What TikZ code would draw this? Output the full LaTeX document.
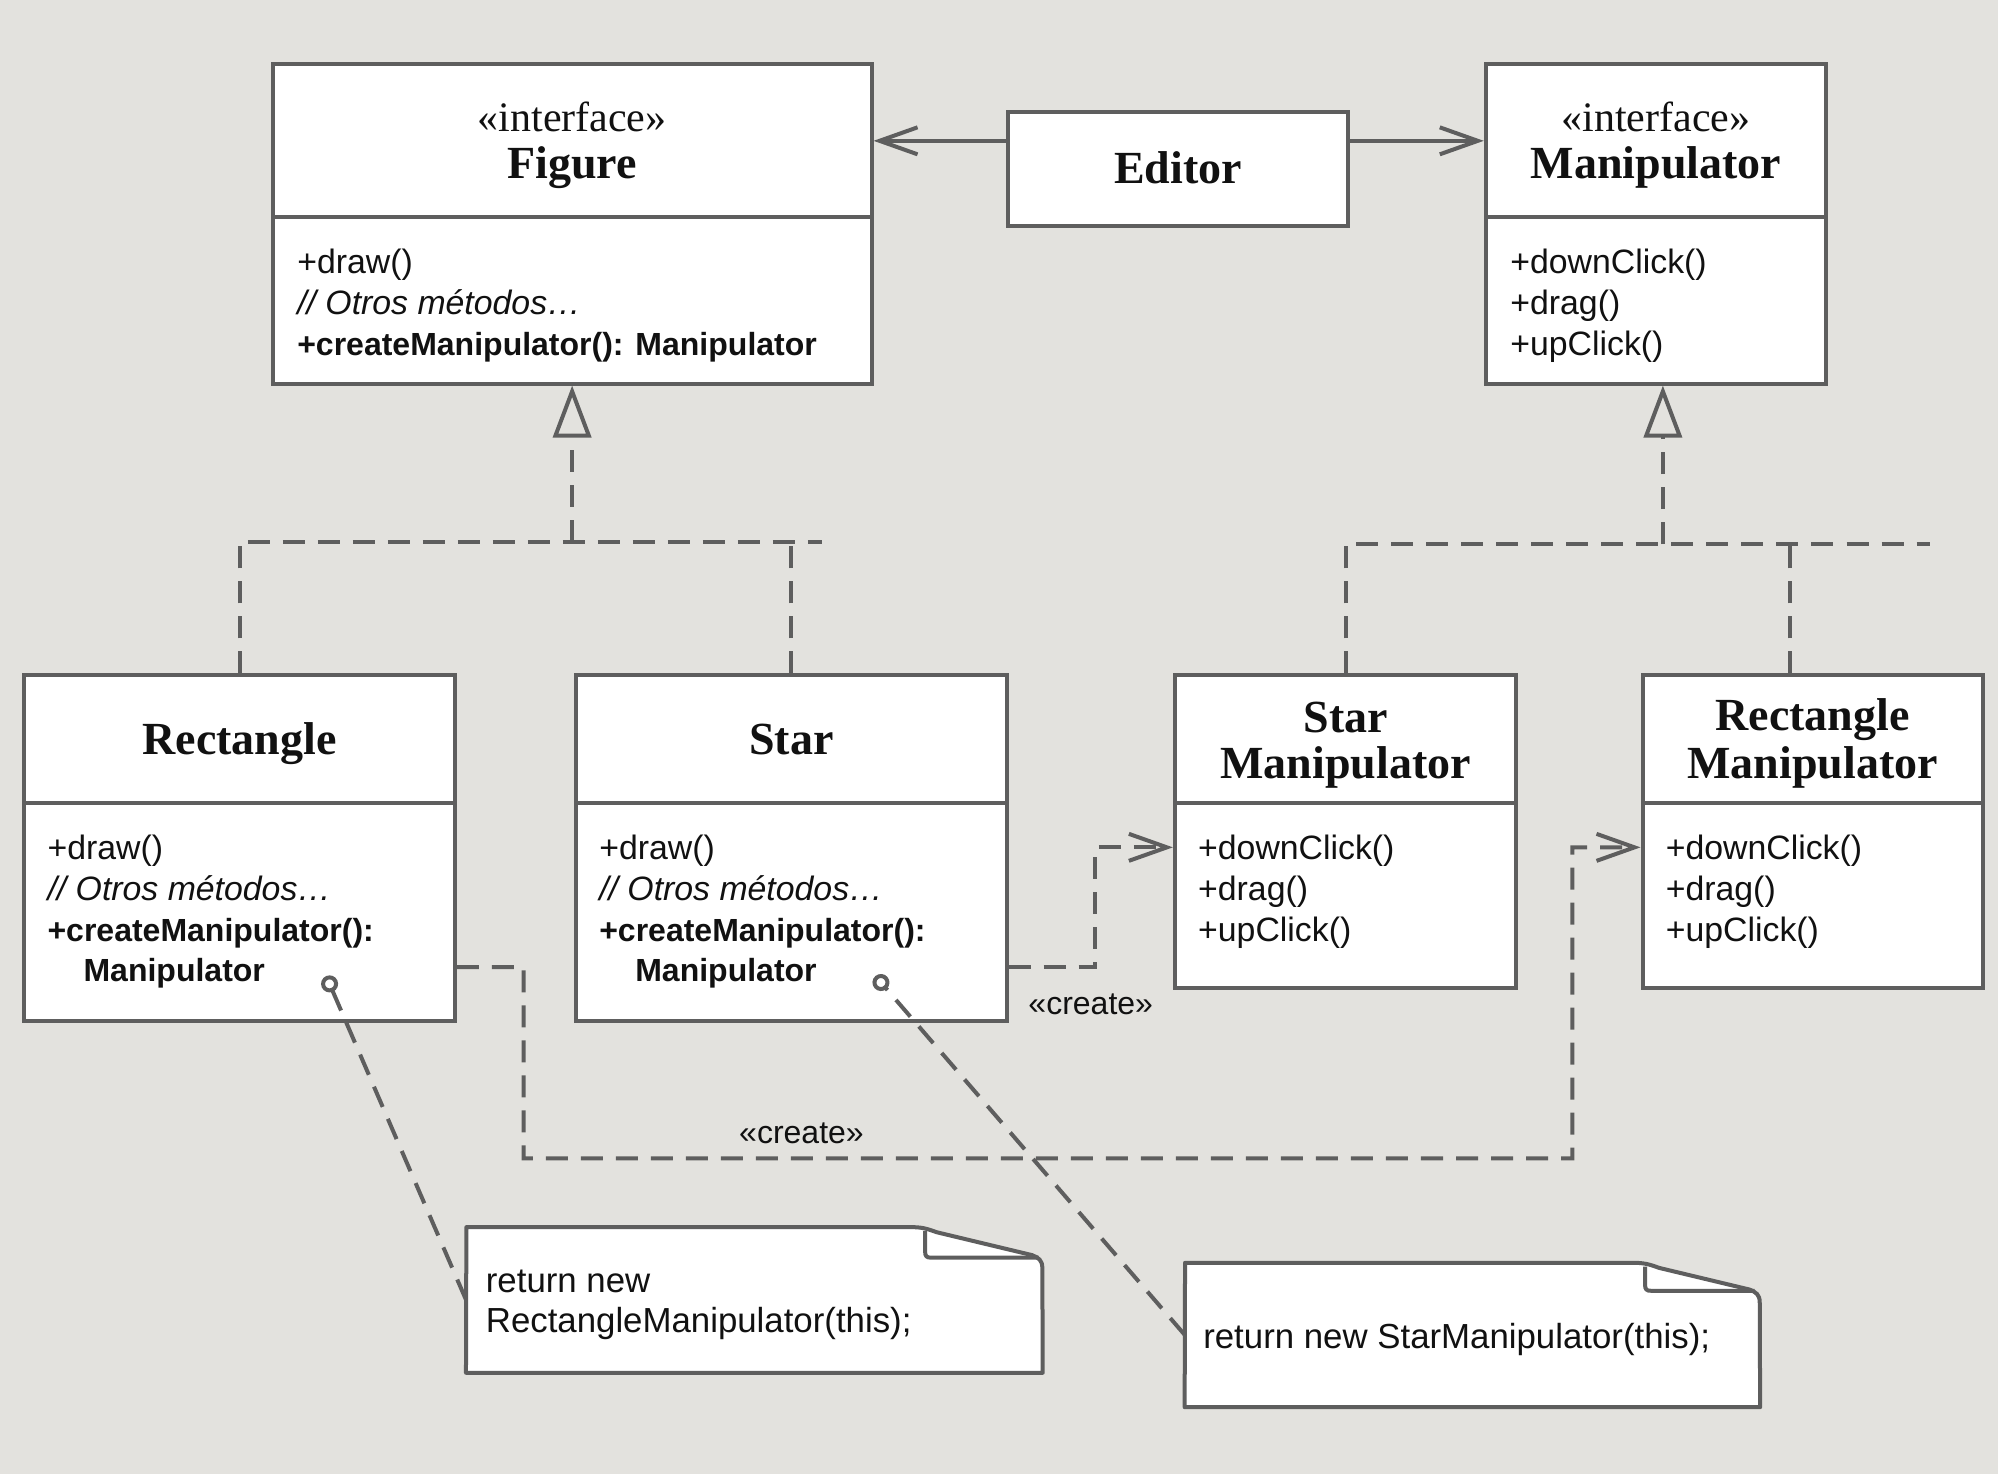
\documentclass[tikz,border=0pt]{standalone}
\usepackage{fontspec}
\setmainfont{Liberation Serif}
\setsansfont{Liberation Sans}
\usetikzlibrary{fit,arrows.meta}
\definecolor{bg}{HTML}{E3E2DE}
\definecolor{lc}{HTML}{5E5E5E}
\definecolor{tc}{HTML}{111111}
\newcommand\bd[1]{{\fontsize{16}{20.4}\selectfont\bfseries #1}}
\begin{document}
\begin{tikzpicture}[x=0.637pt, y=-0.637pt,
  box/.style={draw=lc, line width=2pt, fill=white, inner sep=0pt},
  ttl/.style={font=\bfseries\fontsize{23}{24}\selectfont, anchor=base, inner sep=0pt, text=tc},
  ster/.style={font=\fontsize{21}{24}\selectfont, anchor=base, inner sep=0pt, text=tc},
  body/.style={font=\sffamily\fontsize{16.9}{20.4}\selectfont, anchor=west, align=left, inner sep=0pt, text=tc},
  notet/.style={font=\sffamily\fontsize{17.4}{20.4}\selectfont, anchor=west, align=left, inner sep=0pt, text=tc},
  lbl/.style={font=\sffamily\fontsize{16}{18}\selectfont, inner sep=0pt, text=tc},
  assoc/.style={draw=lc, line width=2pt, -{Straight Barb[length=19pt,width=13.5pt]}},
  dep/.style={draw=lc, line width=2pt, dash pattern=on 11pt off 6.5pt, -{Straight Barb[length=19pt,width=13.5pt]}},
  real/.style={draw=lc, line width=2pt, dash pattern=on 11pt off 6.5pt},
  realtip/.style={real, -{Triangle[open,length=26pt,width=19pt]}},
  notel/.style={draw=lc, line width=2pt, fill=white, line join=round},
  anchorl/.style={draw=lc, line width=2pt, dash pattern=on 11pt off 6.5pt, -{Circle[open,length=8.5pt]}},
]
\useasboundingbox (0,0) rectangle (1568,1156.8);
\fill[bg] (0,0) rectangle (1568,1156.8);

% Figure
\node[box, fit={(214,50)(684,170)}] (figT) {};
\node[box, fit={(214,170)(684,301)}] (figB) {};
\node[ster] (figSt) at (449,103) {«interface»};
\node[ttl] (figName) at (449,140) {Figure};
\node[body] (figTxt) at (233,240) {+draw()\\\textit{// Otros métodos…}\\\bd{+createManipulator(): Manipulator}};

% Editor
\node[box, fit={(791,88)(1058,177)}] (editor) {};
\node[ttl] (editorName) at (924.5,144) {Editor};

% Manipulator
\node[box, fit={(1166,50)(1433,170)}] (manT) {};
\node[box, fit={(1166,170)(1433,301)}] (manB) {};
\node[ster] (manSt) at (1299.5,103) {«interface»};
\node[ttl] (manName) at (1299.5,140) {Manipulator};
\node[body] (manTxt) at (1185,240) {+downClick()\\+drag()\\+upClick()};

% Rectangle
\node[box, fit={(19,530)(357,630)}] (rectT) {};
\node[box, fit={(19,630)(357,801)}] (rectB) {};
\node[ttl] (rectName) at (188,592.5) {Rectangle};
\node[body] (rectTxt) at (37,715.5) {+draw()\\\textit{// Otros métodos…}\\\bd{+createManipulator():}\\\hspace*{18pt}\bd{Manipulator}};

% Star
\node[box, fit={(452,530)(790,630)}] (starT) {};
\node[box, fit={(452,630)(790,801)}] (starB) {};
\node[ttl] (starName) at (621,592.5) {Star};
\node[body] (starTxt) at (470,715.5) {+draw()\\\textit{// Otros métodos…}\\\bd{+createManipulator():}\\\hspace*{18pt}\bd{Manipulator}};

% Star Manipulator
\node[box, fit={(922,530)(1190,630)}] (smT) {};
\node[box, fit={(922,630)(1190,775)}] (smB) {};
\node[ttl] (smName1) at (1056,575) {Star};
\node[ttl] (smName2) at (1056,611) {Manipulator};
\node[body] (smTxt) at (940,700) {+downClick()\\+drag()\\+upClick()};

% Rectangle Manipulator
\node[box, fit={(1289,530)(1556,630)}] (rmT) {};
\node[box, fit={(1289,630)(1556,775)}] (rmB) {};
\node[ttl] (rmName1) at (1422.5,573) {Rectangle};
\node[ttl] (rmName2) at (1422.5,611) {Manipulator};
\node[body] (rmTxt) at (1307,700) {+downClick()\\+drag()\\+upClick()};

% Editor associations
\draw[assoc] ([yshift=14pt]editor.west) -- ([yshift=14pt]editor.west -| figT.east);
\draw[assoc] ([yshift=14pt]editor.east) -- ([yshift=14pt]editor.east -| manT.west);

% Realization: Figure
\coordinate (jf) at (449,425);
\coordinate (jfend) at (645,425);
\draw[real] (rectT.north) |- (jfend);
\draw[real] (starT.north) -- (starT.north |- jf);
\draw[realtip] (jf) -- (figB.south);

% Realization: Manipulator
\coordinate (jm) at (1305,427);
\coordinate (jmend) at (1515,427);
\draw[real] (smT.north) |- (jmend);
\draw[real] ([xshift=-11.1pt]rmT.north) -- ([xshift=-11.1pt]rmT.north |- jm);
\draw[realtip] (jm) -- (jm |- manB.south);

% create dependencies
\draw[dep] ([yshift=-27.7pt]starB.east) -- ++(68,0) |- ([yshift=23.9pt]smB.west);
\node[lbl] (create1) at (856,788) {«create»};
\coordinate (c2a) at (411,909);
\coordinate (c2b) at (1234,665);
\draw[dep] ([yshift=-27.7pt]rectB.east) -| (c2a) -| (c2b) -- ([yshift=23.9pt]rmB.west);
\node[lbl] (create2) at (629,889) {«create»};

% Note 1
\node[inner sep=0pt, fit={(366,963)(818,1077)}] (note1) {};
\draw[notel] (note1.south west) -- (366,963) -- (714,963) .. controls (723,963) and (727,964) .. (735,967) -- (810,985) .. controls (815,987) and (818,989) .. (818,995) -- (note1.south east) -- cycle;
\draw[notel, fill=none] (726,966) -- (726,982) .. controls (726,986) and (727,987) .. (731,987) -- (815,987);
\node[notet] (note1Txt) at (381,1024) {return new\\RectangleManipulator(this);};

% Note 2
\node[inner sep=0pt, fit={(930,991)(1381,1104)}] (note2) {};
\draw[notel] (note2.south west) -- (930,991) -- (1281,991) .. controls (1290,991) and (1294,992) .. (1302,995) -- (1373,1012) .. controls (1378,1014) and (1381,1016) .. (1381,1022) -- (note2.south east) -- cycle;
\draw[notel, fill=none] (1291,994) -- (1291,1008) .. controls (1291,1012) and (1292,1013) .. (1296,1013) -- (1377,1013);
\node[notet] (note2Txt) at (944,1051) {return new StarManipulator(this);};

% note anchors
\coordinate (anc1) at (256,766);
\coordinate (anc2) at (687,766);
\draw[anchorl] (note1.west) -- (anc1);
\draw[anchorl] (note2.west) -- (anc2);
\end{tikzpicture}
\end{document}
